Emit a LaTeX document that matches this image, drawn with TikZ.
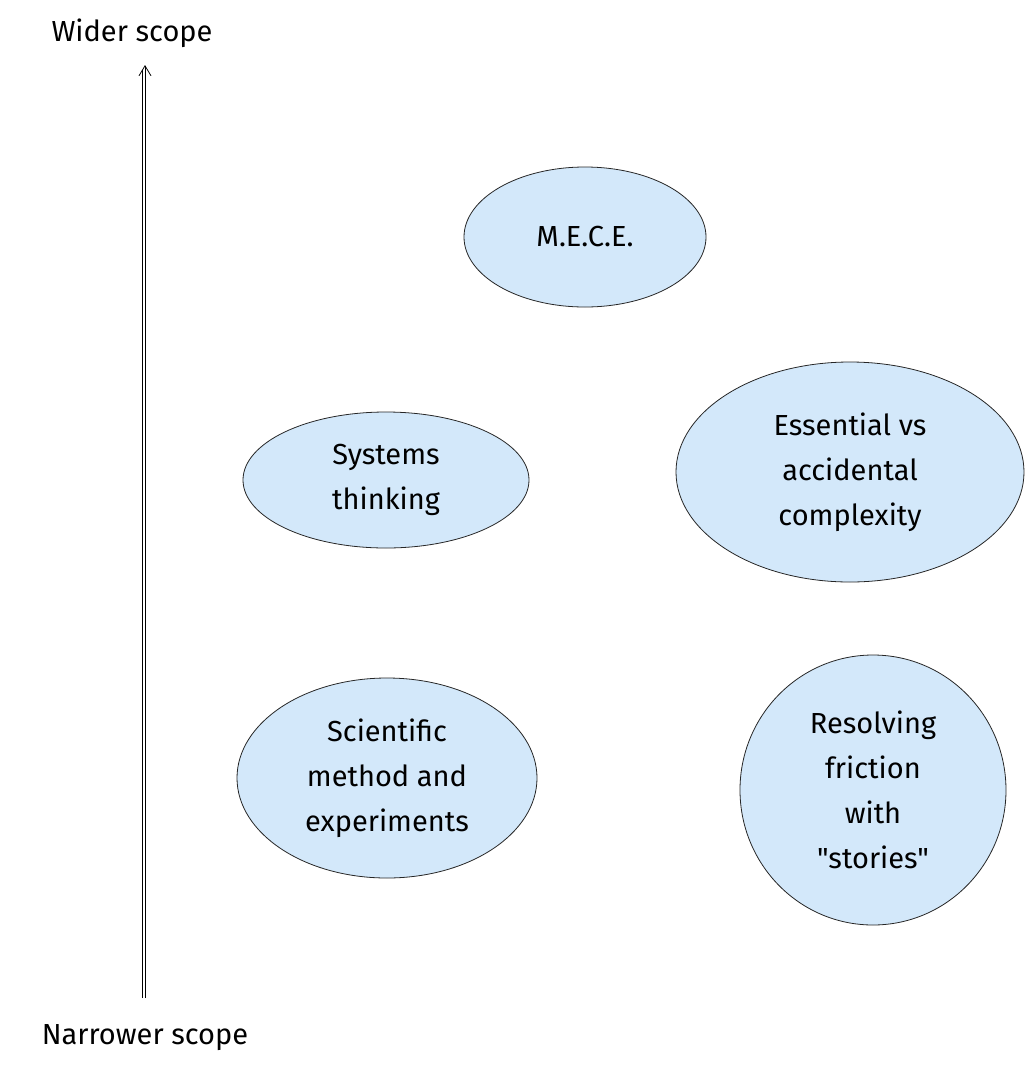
\documentclass[tikz,border=0pt]{standalone}
\usepackage{fontspec}
\setmainfont{Fira Sans}[Ligatures=TeXOff]
\usetikzlibrary{shapes.geometric,arrows.meta}
\definecolor{fillb}{HTML}{D3E8FA}
\tikzset{
  bubble/.style={draw=black!85, line width=0.8pt, fill=fillb, ellipse, align=center, font=\fontsize{29}{45}\selectfont, inner sep=0pt},
  lbl/.style={font=\fontsize{29}{34}\selectfont}
}
\begin{document}
\begin{tikzpicture}[x=1pt,y=-1pt]
\useasboundingbox (0,0) rectangle (1031,1069);
\node[bubble, minimum width=242pt, minimum height=140pt] (mece) at (585,237) {M.E.C.E.};
\node[bubble, minimum width=286pt, minimum height=136pt] (sys) at (386,480) {Systems\\thinking};
\node[bubble, minimum width=348pt, minimum height=220pt] (ess) at (850,472) {Essential vs\\accidental\\complexity};
\node[bubble, minimum width=300pt, minimum height=200pt] (sci) at (387,778) {Scientific\\method and\\experiments};
\node[bubble, minimum width=266pt, minimum height=270pt] (res) at (873,790) {Resolving\\friction\\with\\"stories"};
\coordinate (bot) at (145,998);
\coordinate (top) at (145,65);
\draw[line width=0.8pt, -{Straight Barb[length=10pt,width=12pt]}] (bot) -- (top);
\draw[line width=0.6pt] (142,998) -- (142,70);
\node[lbl] (wider) at (132,33) {Wider scope};
\node[lbl] (narrow) at (145,1038) {Narrower scope};
\end{tikzpicture}
\end{document}
